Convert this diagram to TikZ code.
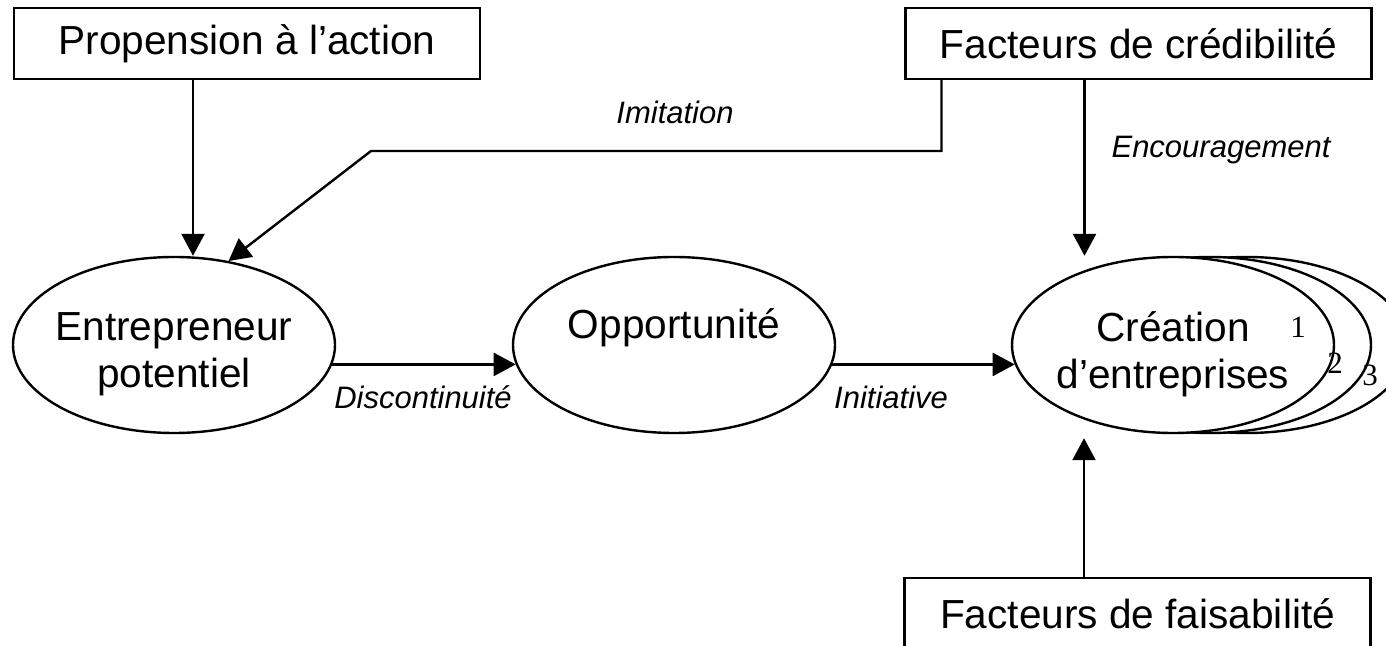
\documentclass[tikz,border=0pt]{standalone}
\usepackage{fontspec}
\setmainfont{Liberation Sans}
\newfontfamily\numfont{Liberation Serif}
\usetikzlibrary{positioning}
\usetikzlibrary{arrows.meta}
\usetikzlibrary{shapes.geometric}

\begin{document}
\begin{tikzpicture}[x=0.5pt, y=-0.5pt, line width=1.2pt,
    >={Triangle[width=11.5pt,length=11pt]},
    box/.style={draw, rectangle, minimum width=233pt, minimum height=35.5pt, inner sep=0pt, font=\fontsize{20.3}{23.5}\selectfont},
    oval/.style={draw, ellipse, fill=white, minimum width=161pt, minimum height=88pt, inner sep=0pt},
    txt/.style={inner sep=0pt, align=center, yshift=-4.5pt, font=\fontsize{20.3}{23.5}\selectfont},
    lbl/.style={inner sep=0pt, font=\fontsize{15.5}{18}\selectfont\itshape},
    num/.style={inner sep=0pt, font=\fontsize{15.5}{18}\selectfont\numfont}]
    \clip (0,0) rectangle (1386,646);

    % boxes
    \node[box] (prop) at (247,43.5) {Propension à l’action};
    \node[box] (cred) at (1138.5,43.5) {Facteurs de crédibilité};
    \node[box] (fais) at (1137.5,613.5) {Facteurs de faisabilité};

    % ellipses
    \node[oval] (ent) at (174,345) {};
    \node[txt] (ent text) at (ent) {Entrepreneur\\potentiel};
    \node[oval] (opp) at (674,345) {};
    \node[txt] (opp text) at (opp) {Opportunité\\\strut};
    \node[oval] (crea3) at (1247,345) {};
    \node[oval] (crea2) at (1210,345) {};
    \node[oval] (crea) at (1173,345) {};
    \node[txt] (crea text) at (crea) {Création\\d’entreprises};
    \node[num] (n1) at (1298,327) {1};
    \node[num] (n2) at (1335,363) {2};
    \node[num] (n3) at (1370,375) {3};

    % arrows
    \coordinate (p1) at ([xshift=-27pt]prop.south);
    \draw[->] (p1) -- (p1 |- ent.north);
    \coordinate (p2) at ([xshift=-98.5pt]cred.south);
    \coordinate (bend) at (371,151);
    \draw[->] (p2) |- (bend) -- (ent.57);
    \coordinate (p3) at ([xshift=-27pt]cred.south);
    \draw[->] (p3) -- (p3 |- crea.north);
    \coordinate (p4) at ([xshift=-26.75pt]fais.north);
    \coordinate (p5) at ([yshift=-2pt]crea.south);
    \draw[->] (p4) -- (p4 |- p5);
    \draw[->] (ent.-7) -- (opp.187);
    \draw[->] (opp.-7) -- (crea.187);

    % labels
    \node[lbl] (imit) at (675,112) {Imitation};
    \node[lbl] (enc) at (1221,150) {Encouragement};
    \node[lbl] (disc) at (423,397) {Discontinuité};
    \node[lbl, anchor=west] (init) at (833,397) {Initiative};
\end{tikzpicture}
\end{document}
